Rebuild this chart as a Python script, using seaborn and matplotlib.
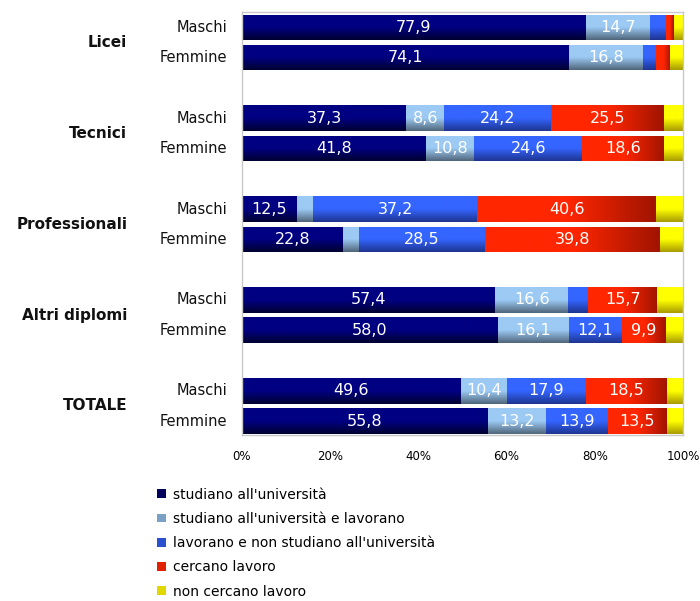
#!/usr/bin/env python3
"""
Diplomati per tipo di scuola e sesso: condizione dopo il diploma (barre 100% impilate).
"""

import numpy as np
import pandas as pd
import matplotlib
matplotlib.use("Agg")
import matplotlib.pyplot as plt
import seaborn as sns
from matplotlib.patches import Patch
from matplotlib.colors import LinearSegmentedColormap

# --- Data ---
groups = ["Licei", "Tecnici", "Professionali", "Altri diplomi", "TOTALE"]
sexes = ["Maschi", "Femmine"]
series_names = [
    "studiano all'università",
    "studiano all'università e lavorano",
    "lavorano e non studiano all'università",
    "cercano lavoro",
    "non cercano lavoro",
]
# rows: Licei M, Licei F, Tecnici M, Tecnici F, Prof M, Prof F, Altri M, Altri F, Tot M, Tot F
studiano = [77.9, 74.1, 37.3, 41.8, 12.5, 22.8, 57.4, 58.0, 49.6, 55.8]
studiano_lavorano = [14.7, 16.8, 8.6, 10.8, 3.6, 3.8, 16.6, 16.1, 10.4, 13.2]
lavorano = [3.6, 2.9, 24.2, 24.6, 37.2, 28.5, 4.5, 12.1, 17.9, 13.9]
cercano = [1.8, 3.3, 25.5, 18.6, 40.6, 39.8, 15.7, 9.9, 18.5, 13.5]
non_cercano = [2.0, 2.9, 4.4, 4.2, 6.1, 5.1, 5.8, 3.9, 3.6, 3.6]
x_ticks = [0, 20, 40, 60, 80, 100]

# gradient ends per series: (start, end, direction)
gradients = [
    ("#000082", "#000030", "v"),
    ("#9ccaf4", "#50667a", "v"),
    ("#3565ff", "#1e3590", "v"),
    ("#ff2600", "#a01400", "h"),
    ("#ffff00", "#a89c00", "v"),
]
legend_colors = ["#00005a", "#7aa0c4", "#2a50d0", "#e02000", "#e0d800"]

values = [studiano, studiano_lavorano, lavorano, cercano, non_cercano]
positions = [g * 3 + s for g in range(len(groups)) for s in range(len(sexes))]

fig = plt.figure(figsize=(7.0, 6.01), dpi=100)
ax = fig.add_axes([0.3457, 0.2762, 0.63, 0.704])

left = np.zeros(len(positions))
for k, vals in enumerate(values):
    df = pd.DataFrame({"val": vals, "pos": positions})
    n_before = len(ax.patches)
    sns.barplot(data=df, x="val", y="pos", orient="h", native_scale=True,
                width=0.84, color=legend_colors[k], errorbar=None, ax=ax,
                linewidth=0)
    new_patches = ax.patches[n_before:]
    c0, c1, direction = gradients[k]
    cmap = LinearSegmentedColormap.from_list(f"g{k}", [c0, c0, c1])
    for p in new_patches:
        yc = p.get_y() + p.get_height() / 2
        i = int(np.argmin([abs(yc - q) for q in positions]))
        p.set_x(left[i])
        # gradient fill clipped to the bar
        if direction == "v":
            grad = np.linspace(0, 1, 64).reshape(-1, 1)
        else:
            grad = np.linspace(0, 1, 64).reshape(1, -1)
        x0, w = left[i], p.get_width()
        y0, h = p.get_y(), p.get_height()
        im = ax.imshow(grad, cmap=cmap, aspect="auto",
                       extent=[x0, x0 + w, y0 + h, y0],
                       interpolation="bilinear", zorder=p.get_zorder() + 0.1)
        im.set_clip_path(p)
        v = vals[i]
        if v >= 8:
            ax.text(x0 + w / 2, yc, f"{v:.1f}".replace(".", ","),
                    ha="center", va="center", color="white", fontsize=11.5,
                    zorder=5)
    left += np.array(vals)

ax.set_xlim(0, 100)
ax.set_ylim(13.46, -0.51)
ax.set_xticks(x_ticks)
ax.set_xticklabels([f"{t}%" for t in x_ticks], fontsize=8.5)
ax.tick_params(axis="x", length=0, pad=11)
ax.set_yticks([])
ax.set_xlabel("")
ax.set_ylabel("")
for spine in ax.spines.values():
    spine.set_color("#c8c8c8")
    spine.set_linewidth(1)

# row and group labels
for g, name in enumerate(groups):
    for s, sex in enumerate(sexes):
        ax.text(-0.034, g * 3 + s, sex, transform=ax.get_yaxis_transform(),
                ha="right", va="center", fontsize=10.5, color="#111111")
    ax.text(-0.26, g * 3 + 0.5, name, transform=ax.get_yaxis_transform(),
            ha="right", va="center", fontsize=11, fontweight="bold",
            color="#111111")

handles = [Patch(facecolor=c, edgecolor="none") for c in legend_colors]
fig.legend(handles, series_names, loc="upper left",
           bbox_to_anchor=(0.217, 1 - 482 / 601), frameon=False, fontsize=10,
           handlelength=0.6, handleheight=0.6, handletextpad=0.55,
           labelspacing=0.74, borderaxespad=0)

fig.savefig("out.png", dpi=100)
plt.close(fig)
